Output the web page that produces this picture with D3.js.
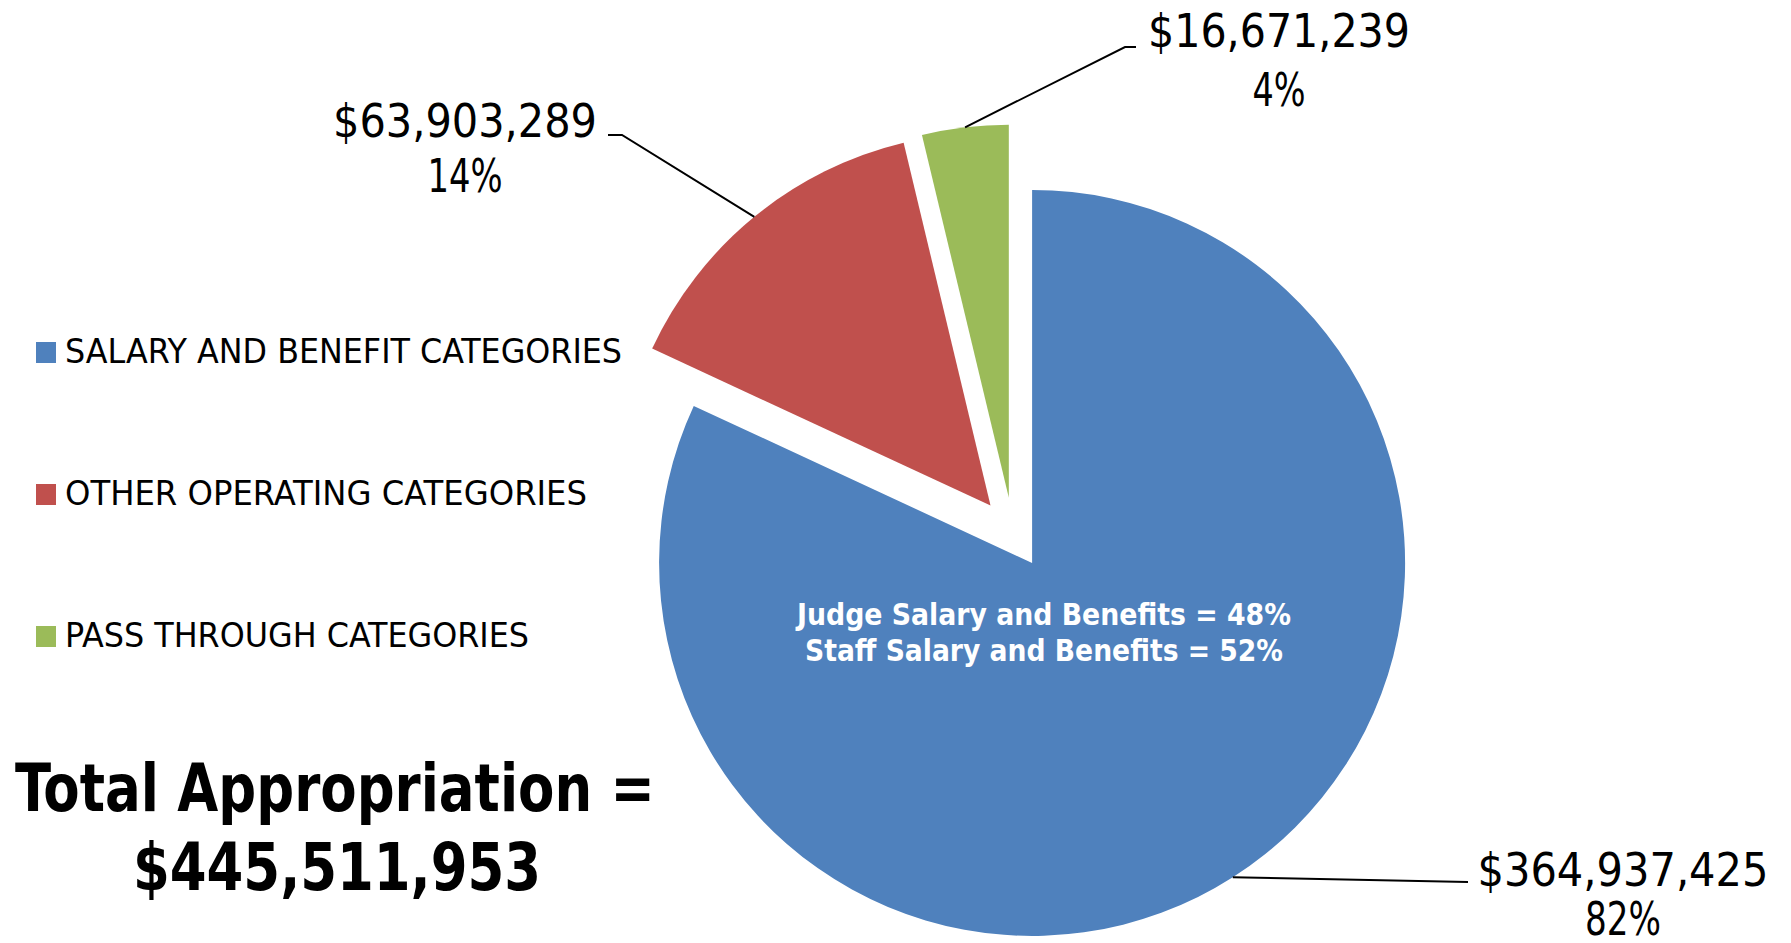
<!DOCTYPE html>
<html>
<head>
<meta charset="utf-8">
<script src="https://cdn.jsdelivr.net/npm/d3@7"></script>
<style>
  html, body { margin: 0; padding: 0; background: #fff; }
  svg { display: block; }
  text { font-family: "DejaVu Sans Condensed", "DejaVu Sans", sans-serif; font-stretch: condensed; }
</style>
</head>
<body>
<svg id="chart" width="1791" height="943"></svg>
<script>
// data
const categories = ["SALARY AND BENEFIT CATEGORIES", "OTHER OPERATING CATEGORIES", "PASS THROUGH CATEGORIES"];
const amounts = [364937425, 63903289, 16671239];
const percentLabels = ["82%", "14%", "4%"];
const colors = ["#4F81BD", "#C0504D", "#9BBB59"];
const innerNotes = ["Judge Salary and Benefits = 48%", "Staff Salary and Benefits = 52%"];

const svg = d3.select("#chart");

// pie geometry
const cx = 1013, cy = 533;
const radius = 373;
const explode = 35.5;

const pie = d3.pie().sort(null).value(d => d)(amounts);
const arc = d3.arc().innerRadius(0).outerRadius(radius);
const edge = d3.arc().innerRadius(radius).outerRadius(radius);

const mid = d => (d.startAngle + d.endAngle) / 2;
const offset = d => [explode * Math.sin(mid(d)), -explode * Math.cos(mid(d))];

const g = svg.append("g").attr("transform", `translate(${cx},${cy})`);

g.selectAll("g.slice")
  .data(pie)
  .join("g")
  .attr("class", "slice")
  .attr("transform", d => `translate(${offset(d)})`)
  .append("path")
  .attr("d", arc)
  .attr("fill", (d, i) => colors[i]);

// leader lines and labels (layout per slice)
const fmt = d3.format("$,");
const labelLayout = [
  { x: 1623, y: 886, dy: 49, w: 291, pw: 76, elbow: [1468, 882], end: [1468, 882] },
  { x: 465, y: 137, dy: 55, w: 264, pw: 75, elbow: [622, 135], end: [608, 135] },
  { x: 1279, y: 47, dy: 59, w: 262, pw: 53, elbow: [1125, 47], end: [1136, 47] }
];

pie.forEach((d, i) => {
  const L = labelLayout[i];
  const o = offset(d);
  const p = edge.centroid(d);
  const start = [cx + o[0] + p[0], cy + o[1] + p[1]];
  svg.append("polyline")
    .attr("points", [start, L.elbow, L.end].map(q => q.join(",")).join(" "))
    .attr("fill", "none")
    .attr("stroke", "#000")
    .attr("stroke-width", 2);

  svg.append("text")
    .attr("x", L.x)
    .attr("y", L.y)
    .attr("text-anchor", "middle")
    .attr("font-size", 46)
    .attr("textLength", L.w)
    .attr("lengthAdjust", "spacingAndGlyphs")
    .attr("fill", "#000")
    .text(fmt(amounts[i]));

  svg.append("text")
    .attr("x", L.x)
    .attr("y", L.y + L.dy)
    .attr("text-anchor", "middle")
    .attr("font-size", 46)
    .attr("textLength", L.pw)
    .attr("lengthAdjust", "spacingAndGlyphs")
    .attr("fill", "#000")
    .text(percentLabels[i]);
});

// note inside the blue slice
const noteWidths = [494, 478];
innerNotes.forEach((t, i) => {
  svg.append("text")
    .attr("x", 1044)
    .attr("y", 625 + i * 36)
    .attr("text-anchor", "middle")
    .attr("font-size", 30)
    .attr("font-weight", "bold")
    .attr("textLength", noteWidths[i])
    .attr("lengthAdjust", "spacingAndGlyphs")
    .attr("fill", "#fff")
    .text(t);
});

// legend
const legendWidths = [557, 522, 464];
const legend = svg.append("g").attr("transform", "translate(36,0)");
categories.forEach((c, i) => {
  const y = 363 + i * 142;
  legend.append("rect")
    .attr("x", 0)
    .attr("y", y - 21)
    .attr("width", 20)
    .attr("height", 21)
    .attr("fill", colors[i]);
  legend.append("text")
    .attr("x", 29)
    .attr("y", y)
    .attr("font-size", 34)
    .attr("textLength", legendWidths[i])
    .attr("lengthAdjust", "spacingAndGlyphs")
    .attr("fill", "#000")
    .text(c);
});

// total
const total = d3.sum(amounts);
svg.append("text")
  .attr("x", 335)
  .attr("y", 811)
  .attr("text-anchor", "middle")
  .attr("font-size", 66)
  .attr("font-weight", "bold")
  .attr("textLength", 640)
  .attr("lengthAdjust", "spacingAndGlyphs")
  .text("Total Appropriation =");

svg.append("text")
  .attr("x", 337)
  .attr("y", 890)
  .attr("text-anchor", "middle")
  .attr("font-size", 66)
  .attr("font-weight", "bold")
  .attr("textLength", 408)
  .attr("lengthAdjust", "spacingAndGlyphs")
  .text(fmt(total));
</script>
</body>
</html>
